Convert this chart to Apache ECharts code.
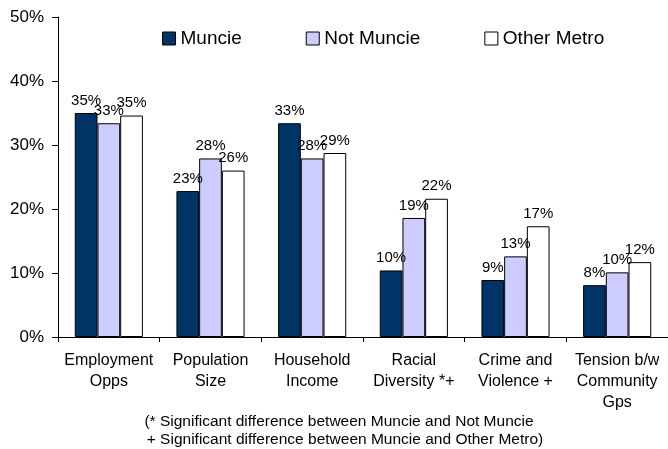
<!DOCTYPE html>
<html>
<head>
<meta charset="utf-8">
<script src="https://cdn.jsdelivr.net/npm/echarts@6/dist/echarts.min.js"></script>
<style>html,body{margin:0;padding:0;background:#fff}#c{width:668px;height:449px}</style>
</head>
<body>
<div id="c"></div>
<script>
const categories = ["Employment\nOpps", "Population\nSize", "Household\nIncome", "Racial\nDiversity *+", "Crime and\nViolence +", "Tension b/w\nCommunity\nGps"];
const seriesNames = ["Muncie", "Not Muncie", "Other Metro"];
const muncie = [35.0, 22.8, 33.4, 10.4, 8.9, 8.1];
const notMuncie = [33.4, 27.9, 27.9, 18.6, 12.6, 10.1];
const otherMetro = [34.6, 26.0, 28.75, 21.6, 17.3, 11.7];
const yTicks = [0, 10, 20, 30, 40, 50];
const footnote = ["(* Significant difference between Muncie and Not Muncie", "+ Significant difference between Muncie and Other Metro)"];

const FONT = "Liberation Sans, Arial, sans-serif";
const colors = ["#003366", "#CCCCFF", "#FFFFFF"];
const values = [muncie, notMuncie, otherMetro];

const chart = echarts.init(document.getElementById('c'), null, {renderer: 'canvas'});
chart.setOption({
  animation: false,
  backgroundColor: '#fff',
  grid: {left: 58, right: -3, top: 17, bottom: 112, containLabel: false},
  legend: {
    data: seriesNames,
    top: 24, left: 157,
    itemWidth: 13, itemHeight: 13, itemGap: 64,
    icon: 'rect',
    textStyle: {fontFamily: FONT, fontSize: 19, color: '#000'},
    itemStyle: {borderColor: '#000', borderWidth: 1}
  },
  xAxis: {
    type: 'category',
    data: categories,
    axisLine: {lineStyle: {color: '#000', width: 1}},
    axisTick: {show: true, length: 5, alignWithLabel: false, lineStyle: {color: '#000'}},
    axisLabel: {fontFamily: FONT, fontSize: 16, color: '#000', lineHeight: 21, margin: 13, interval: 0}
  },
  yAxis: {
    type: 'value',
    min: yTicks[0], max: yTicks[yTicks.length - 1], interval: 10,
    axisLine: {show: true, lineStyle: {color: '#000', width: 1}},
    axisTick: {show: true, length: 6, lineStyle: {color: '#000'}},
    splitLine: {show: false},
    axisLabel: {fontFamily: FONT, fontSize: 17, color: '#000', margin: 14, formatter: v => v + '%'}
  },
  series: seriesNames.map((name, i) => ({
    name: name,
    type: 'bar',
    data: values[i],
    barGap: '0%',
    barCategoryGap: '33%',
    itemStyle: {color: colors[i], borderColor: '#000', borderWidth: 1},
    label: {
      show: true, position: 'top', distance: 5,
      fontFamily: FONT, fontSize: 15, color: '#000',
      formatter: p => Math.round(p.value) + '%'
    }
  })),
  graphic: [
    {type: 'text', x: 339, y: 422, style: {text: footnote[0], font: '15.5px ' + FONT, fill: '#000', textAlign: 'center', textVerticalAlign: 'middle'}},
    {type: 'text', x: 345, y: 440, style: {text: footnote[1], font: '15.5px ' + FONT, fill: '#000', textAlign: 'center', textVerticalAlign: 'middle'}}
  ]
});
</script>
</body>
</html>
